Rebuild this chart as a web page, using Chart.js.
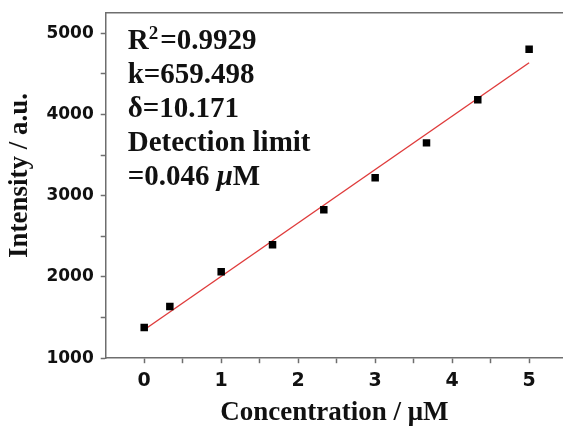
<!DOCTYPE html>
<html>
<head>
<meta charset="utf-8">
<script src="https://cdn.jsdelivr.net/npm/chart.js@4.4.1/dist/chart.umd.min.js"></script>
<style>
  html, body { margin: 0; padding: 0; background: #fff; }
  #wrap { width: 563px; height: 427px; }
</style>
</head>
<body>
<div id="wrap"><canvas id="calib" width="563" height="427"></canvas></div>
<script>
// concentration (uM) vs. intensity (a.u.)
const concentration = [0, 0.333, 1, 1.667, 2.333, 3, 3.667, 4.333, 5];
const intensity = [1377, 1636, 2064, 2397, 2829, 3223, 3651, 4181, 4805];

const fitX = [0, 5];
const fitY = [1350, 4637];

const xTickValues = [0, 0.5, 1, 1.5, 2, 2.5, 3, 3.5, 4, 4.5, 5];
const xLabelled = [0, 1, 2, 3, 4, 5];
const yTickValues = [1000, 1500, 2000, 2500, 3000, 3500, 4000, 4500, 5000];
const yLabelled = [1000, 2000, 3000, 4000, 5000];

const statLines = ['k=659.498', 'δ=10.171', 'Detection limit'];
const r2Text = ['R', '2', '=0.9929'];
const limitText = ['=0.046 ', 'μ', 'M'];

const AXIS_GREY = '#6e6e6e';
const SERIF = '"Liberation Serif", "Times New Roman", serif';

function toXY(xs, ys) { return xs.map((x, i) => ({ x: x, y: ys[i] })); }

// fit statistics written in the upper left of the plot
const statsBox = {
  id: 'statsBox',
  afterDatasetsDraw(chart) {
    const ctx = chart.ctx;
    const left = chart.chartArea.left + 22;
    const top = chart.chartArea.top + 36;
    const step = 34;
    const big = 'bold 29px ' + SERIF;
    ctx.save();
    ctx.fillStyle = '#111';
    ctx.textBaseline = 'alphabetic';
    ctx.textAlign = 'left';

    // R^2 line, superscript drawn smaller and raised
    let x = left;
    r2Text.forEach((part, i) => {
      ctx.font = i === 1 ? 'bold 19px ' + SERIF : big;
      ctx.fillText(part, x, i === 1 ? top - 10 : top);
      x += ctx.measureText(part).width + (i === 1 ? 2 : 0);
    });

    ctx.font = big;
    statLines.forEach((s, i) => ctx.fillText(s, left, top + (i + 1) * step));

    // last line has an italic mu
    x = left;
    const y = top + (statLines.length + 1) * step;
    limitText.forEach((part, i) => {
      ctx.font = (i === 1 ? 'italic ' : '') + big;
      ctx.fillText(part, x, y);
      x += ctx.measureText(part).width;
    });
    ctx.restore();
  }
};

const cfg = {
  type: 'scatter',
  data: {
    datasets: [
      {
        label: 'data',
        data: toXY(concentration, intensity),
        pointStyle: 'rect',
        pointRadius: 5.3,
        pointBackgroundColor: '#000',
        pointBorderWidth: 0,
        order: 0
      },
      {
        type: 'line',
        label: 'fit',
        data: toXY(fitX, fitY),
        borderColor: '#df3b3b',
        borderWidth: 1.4,
        pointRadius: 0,
        fill: false,
        order: 1
      }
    ]
  },
  options: {
    responsive: false,
    animation: false,
    layout: { autoPadding: false, padding: { left: 0, right: 0, top: 13, bottom: 0 } },
    plugins: { legend: { display: false }, tooltip: { enabled: false } },
    scales: {
      x: {
        type: 'linear',
        position: 'bottom',
        min: -0.5,
        max: 5.44,
        afterBuildTicks: (scale) => { scale.ticks = xTickValues.map(v => ({ value: v })); },
        ticks: {
          padding: 6,
          color: '#111',
          font: { family: '"DejaVu Sans", sans-serif', weight: 'bold', size: 19 },
          callback: (v) => xLabelled.includes(v) ? String(v) : ''
        },
        grid: { drawOnChartArea: false, tickLength: 5, tickColor: AXIS_GREY, tickWidth: 1.5 },
        border: { display: true, color: AXIS_GREY, width: 1.5 },
        title: {
          display: true,
          text: 'Concentration / μM',
          color: '#111',
          padding: { top: 2, bottom: 0 },
          font: { family: SERIF, weight: 'bold', size: 27, lineHeight: 1 }
        }
      },
      xTop: {
        type: 'linear',
        position: 'top',
        min: -0.5,
        max: 5.44,
        afterBuildTicks: (scale) => { scale.ticks = [{ value: 0 }]; },
        ticks: { display: false, callback: () => '' },
        grid: { display: false, drawTicks: false },
        border: { display: true, color: AXIS_GREY, width: 1.5 }
      },
      y: {
        type: 'linear',
        min: 1000,
        max: 5250,
        afterBuildTicks: (scale) => { scale.ticks = yTickValues.map(v => ({ value: v })); },
        // top label sits well below the max, so it needs no room above the plot
        afterFit: (scale) => { scale.paddingTop = 0; },
        ticks: {
          padding: 7,
          color: '#111',
          font: { family: '"DejaVu Sans", sans-serif', weight: 'bold', size: 17 },
          callback: (v) => yLabelled.includes(v) ? String(v) : ''
        },
        grid: { drawOnChartArea: false, tickLength: 5, tickColor: AXIS_GREY, tickWidth: 1.5 },
        border: { display: true, color: AXIS_GREY, width: 1.5 },
        title: {
          display: true,
          // leading spaces nudge the centred title up to where the original sits
          text: '   Intensity / a.u.',
          color: '#111',
          padding: { top: 4, bottom: 3 },
          font: { family: SERIF, weight: 'bold', size: 27 }
        }
      }
    }
  },
  plugins: [statsBox]
};

new Chart(document.getElementById('calib').getContext('2d'), cfg);
</script>
</body>
</html>
